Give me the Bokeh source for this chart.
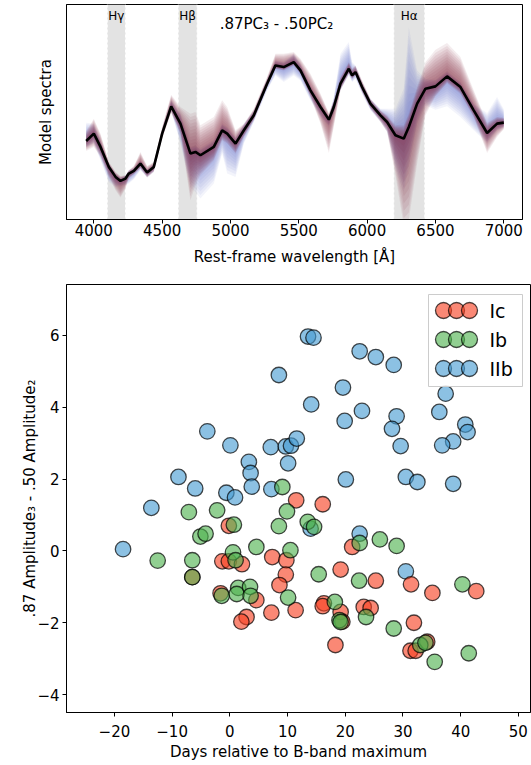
import numpy as np
from bokeh.plotting import figure
from bokeh.models import Range1d, FixedTicker, BoxAnnotation, Span, Label, Legend, LegendItem
from bokeh.layouts import column
from bokeh.core.properties import value
from bokeh.embed import file_html
from bokeh.resources import INLINE

FONT = "DejaVu Sans"

# ---------------- top panel data ----------------
wavelength = [3944, 4000, 4049, 4110, 4159, 4195, 4232, 4256, 4293, 4341, 4390, 4439, 4500, 4566,
              4634, 4707, 4744, 4780, 4878, 4939, 4976, 5037, 5098, 5171, 5268, 5329, 5390, 5463,
              5512, 5585, 5659, 5720, 5756, 5805, 5866, 5890, 5915, 5963, 6024, 6098, 6146, 6207,
              6268, 6305, 6366, 6427, 6500, 6585, 6683, 6780, 6878, 6951, 7000]
flux = [0.78, 1.00, 0.60, 0.00, -0.30, -0.42, -0.35, -0.20, -0.12, 0.10, -0.17, 0.00, 1.00, 1.82,
        1.30, 0.40, 0.45, 0.35, 0.60, 1.10, 1.00, 0.70, 1.10, 1.55, 2.50, 3.05, 3.00, 3.15,
        2.90, 2.30, 1.80, 1.42, 1.80, 2.50, 2.95, 2.75, 2.85, 2.40, 1.90, 1.55, 1.35, 0.95,
        0.85, 1.20, 1.90, 2.35, 2.42, 2.72, 2.40, 1.70, 1.02, 1.30, 1.33]
red_up = [0.30, 0.45, 0.40, 0.15, 0.15, 0.15, 0.10, 0.10, 0.15, 0.35, 0.20, 0.15, 0.20, 0.35,
          0.50, 1.20, 1.20, 0.90, 0.90, 0.90, 0.80, 0.40, 0.20, 0.20, 0.20, 0.35, 0.40, 0.30,
          0.35, 0.50, 0.40, 0.20, 0.20, 0.20, 0.20, 0.20, 0.20, 0.20, 0.15, 0.15, 0.20, 0.30,
          0.40, 0.40, 0.50, 0.80, 1.10, 1.00, 0.90, 0.60, 0.30, 0.20, 0.15]
red_lo = [0.30, 0.40, 0.30, 0.30, 0.40, 0.50, 0.30, 0.15, 0.10, 0.15, 0.15, 0.15, 0.15, 0.20,
          0.30, 1.40, 1.00, 0.60, 0.40, 0.30, 0.30, 0.30, 0.20, 0.15, 0.10, 0.10, 0.10, 0.10,
          0.10, 0.20, 0.50, 1.00, 0.60, 0.20, 0.15, 0.10, 0.10, 0.15, 0.15, 0.20, 0.30, 1.20,
          2.60, 2.80, 1.80, 0.80, 0.30, 0.20, 0.20, 0.20, 0.60, 0.40, 0.20]
blue_up = [0.55, 0.30, 0.20, 0.10, 0.10, 0.10, 0.10, 0.10, 0.10, 0.10, 0.10, 0.10, 0.15, 0.20,
           0.30, 0.20, 0.20, 0.20, 0.20, 0.20, 0.20, 0.20, 0.20, 0.15, 0.15, 0.15, 0.15, 0.25,
           0.20, 0.15, 0.10, 0.10, 0.30, 0.90, 0.80, 0.40, 0.20, 0.15, 0.15, 0.20, 0.40, 0.80,
           1.50, 3.00, 1.00, 0.30, 0.20, 0.15, 0.15, 0.20, 0.60, 0.80, 0.40]
blue_lo = [0.20, 0.30, 0.40, 0.45, 0.30, 0.15, 0.20, 0.30, 0.25, 0.20, 0.15, 0.15, 0.10, 0.15,
           0.60, 1.00, 1.20, 1.30, 1.10, 0.70, 1.20, 1.00, 0.40, 0.20, 0.20, 0.30, 0.45, 0.40,
           0.30, 0.30, 0.30, 0.20, 0.20, 0.20, 0.20, 0.20, 0.20, 0.20, 0.20, 0.20, 0.30, 1.00,
           1.60, 1.20, 0.60, 0.50, 0.70, 0.90, 0.90, 0.60, 0.30, 0.20, 0.15]

line_names = ["Hγ", "Hβ", "Hα"]
band_lo = [4098, 4617, 6195]
band_hi = [4232, 4756, 6422]
top_xticks = [4000, 4500, 5000, 5500, 6000, 6500, 7000]

# ---------------- bottom panel data ----------------
ic_days = [11.5, -0.17, -6.5, -1.3, -0.17, 2.1, 7.35, 9.8, 9.7, 8.6, 11.4, -1.6, 4.6, 2.9, 2.0, 7.2,
           16.1, 21.2, 19.2, 25.3, 31.4, 35.1, 42.7, 16.3, 16.1, 19.2, 19.5, 23.2, 24.4, 18.3,
           31.9, 31.3, 32.2, 34.2]
ic_amp = [1.41, 0.70, -0.73, -0.29, -0.29, -0.37, -0.17, -0.26, -0.66, -0.95, -1.65, -1.18, -1.37,
          -1.84, -1.97, -1.72, 1.30, 0.11, -0.52, -0.83, -0.93, -1.17, -1.12, -1.46, -1.54, -1.70,
          -1.97, -1.56, -1.59, -2.62, -2.00, -2.78, -2.78, -2.53]
ib_days = [9.1, 9.9, -7.1, -2.2, 0.7, 8.5, -5.1, -4.2, 4.6, 10.5, -12.5, -6.5, -6.5, 0.55, 1.0,
           10.1, -1.4, 1.45, 1.2, 3.5, 3.6, 13.5, 14.6, 22.5, 26.0, 28.9, 15.4, 22.4, 40.3, 18.2,
           19.0, 19.2, 23.6, 28.4, 33.0, 33.9, 35.5, 41.4]
ib_amp = [1.78, 1.10, 1.08, 1.13, 0.73, 0.69, 0.40, 0.48, 0.11, 0.02, -0.27, -0.26, -0.73, -0.04,
          -0.26, -1.30, -1.25, -1.03, -1.20, -1.00, -1.25, 0.81, 0.67, 0.22, 0.32, 0.14, -0.65,
          -0.83, -0.93, -1.42, -1.93, -1.98, -1.84, -2.16, -2.62, -2.56, -3.09, -2.85]
iib_days = [8.5, -3.9, 0.1, 7.1, 9.7, 10.6, 11.6, 3.3, 3.6, 10.1, -8.9, -6.0, 3.8, 7.2, -0.6, 0.9,
            -13.6, -18.5, 14.0, 22.5, 30.5, 13.55, 14.5, 22.5, 25.3, 28.4, 19.6, 37.4, 14.1, 22.9,
            19.9, 28.9, 28.1, 36.3, 40.8, 41.2, 38.7, 36.8, 29.6, 20.1, 30.5, 32.5, 38.7]
iib_amp = [4.90, 3.33, 2.94, 2.89, 2.91, 2.93, 3.13, 2.48, 2.17, 2.44, 2.06, 1.74, 1.79, 1.72, 1.62,
           1.49, 1.20, 0.05, 0.62, 0.48, -0.57, 5.97, 5.94, 5.56, 5.40, 5.18, 4.55, 4.38, 4.08,
           3.90, 3.62, 3.75, 3.40, 3.87, 3.52, 3.31, 3.05, 2.94, 2.92, 1.99, 2.06, 1.92, 1.87]
type_names = ["Ic", "Ib", "IIb"]
type_colors = ["#f73f20", "#4eb24e", "#469bd2"]
bottom_xticks = [-20, -10, 0, 10, 20, 30, 40, 50]
bottom_yticks = [-4, -2, 0, 2, 4, 6]


def style_axes(p):
    p.grid.visible = False
    p.outline_line_color = "black"
    p.outline_line_width = 1
    for ax in (p.xaxis[0], p.yaxis[0]):
        ax.axis_line_color = "black"
        ax.major_tick_line_color = "black"
        ax.major_tick_in = 0
        ax.major_tick_out = 4
        ax.minor_tick_line_color = None
        ax.major_label_text_font = FONT
        ax.major_label_text_font_size = "15px"
        ax.major_label_text_color = "black"
        ax.axis_label_text_font = FONT
        ax.axis_label_text_font_size = "15px"
        ax.axis_label_text_font_style = "normal"
        ax.axis_label_text_color = "black"


# ---------------- top panel ----------------
p1 = figure(frame_width=456, frame_height=215, x_range=Range1d(3800, 7137),
            y_range=Range1d(-1.58, 4.88), output_backend="svg", toolbar_location=None,
            min_border_left=66, min_border_right=9, min_border_top=4, min_border_bottom=55,
            background_fill_color="white", border_fill_color="white")
style_axes(p1)

for lo, hi in zip(band_lo, band_hi):
    p1.add_layout(BoxAnnotation(left=lo, right=hi, fill_color="#e3e3e3", fill_alpha=1.0,
                                line_alpha=0, level="underlay"))
    for edge in (lo, hi):
        p1.add_layout(Span(location=edge, dimension="height", line_color="white",
                           line_width=1, line_dash="3 2", level="underlay"))

wl = np.array(wavelength)
f = np.array(flux)
N = 12
for k in range(N, 0, -1):
    frac = k / N
    p1.varea(x=wl, y1=f - np.array(blue_lo) * frac, y2=f + np.array(blue_up) * frac,
             fill_color="#5565c0", fill_alpha=0.07)
for k in range(N, 0, -1):
    frac = k / N
    p1.varea(x=wl, y1=f - np.array(red_lo) * frac, y2=f + np.array(red_up) * frac,
             fill_color="#86304c", fill_alpha=0.095)
p1.line(wl, f, line_color="black", line_width=2.6)

for name, lo, hi in zip(line_names, band_lo, band_hi):
    p1.add_layout(Label(x=(lo + hi) / 2, y=204, y_units="screen", text=name,
                        text_align="center", text_baseline="middle",
                        text_font=FONT, text_font_size="12px", text_color="black"))
p1.add_layout(Label(x=210, y=196, x_units="screen", y_units="screen", text=".87PC₃ - .50PC₂",
                    text_align="center", text_baseline="middle",
                    text_font=FONT, text_font_size="15px", text_color="black"))

p1.xaxis.ticker = FixedTicker(ticks=top_xticks)
p1.xaxis.major_label_standoff = 0
p1.xaxis.axis_label = "Rest-frame wavelength [Å]"
p1.xaxis.axis_label_standoff = 9
p1.yaxis.ticker = FixedTicker(ticks=[])
p1.yaxis.major_tick_out = 0
p1.yaxis.axis_label = "Model spectra"
p1.yaxis.axis_label_standoff = 12

# ---------------- bottom panel ----------------
p2 = figure(frame_width=464, frame_height=428, x_range=Range1d(-28.3, 52.1),
            y_range=Range1d(-4.5, 7.42), output_backend="svg", toolbar_location=None,
            min_border_left=66, min_border_right=1, min_border_top=10, min_border_bottom=53,
            background_fill_color="white", border_fill_color="white")
style_axes(p2)

series = {"Ic": (ic_days, ic_amp), "Ib": (ib_days, ib_amp), "IIb": (iib_days, iib_amp)}
renderers = {}
for name in ["IIb", "Ic", "Ib"]:
    xs, ys = series[name]
    col = type_colors[type_names.index(name)]
    renderers[name] = p2.scatter(xs, ys, size=15.5, fill_color=col, fill_alpha=0.62,
                                 line_color="black", line_alpha=0.7, line_width=1.3)

# legend: frame box and labels as annotations, three overlapping circles per entry
p2.add_layout(BoxAnnotation(left=362, right=456, bottom=326, top=418,
                            left_units="screen", right_units="screen",
                            bottom_units="screen", top_units="screen",
                            fill_color="white", fill_alpha=0.85,
                            line_color="#cccccc", line_width=1, line_alpha=1.0))
row_y = [402, 372.6, 344]          # row centres, px above the frame bottom
col_x = [377.3, 389.5, 403.3]      # circle centres, px right of the frame left
for name, yc in zip(type_names, row_y):
    p2.add_layout(Label(x=423, y=yc, x_units="screen", y_units="screen", text=name,
                        text_align="left", text_baseline="middle",
                        text_font=FONT, text_font_size="19px", text_color="black"))
    for xc in col_x:
        p2.add_layout(Legend(items=[LegendItem(label=value(""), renderers=[renderers[name]])],
                             location=(xc - 20, yc - 20), glyph_width=40, glyph_height=40,
                             label_height=0, label_width=0, label_standoff=0,
                             padding=0, spacing=0, margin=0, label_text_font_size="8px",
                             border_line_color=None, background_fill_alpha=0))

p2.xaxis.ticker = FixedTicker(ticks=bottom_xticks)
p2.yaxis.ticker = FixedTicker(ticks=bottom_yticks)
p2.xaxis.major_label_overrides = {t: str(t).replace("-", "−") for t in bottom_xticks if t < 0}
p2.yaxis.major_label_overrides = {t: str(t).replace("-", "−") for t in bottom_yticks if t < 0}
p2.xaxis.major_label_standoff = 8
p2.yaxis.major_label_standoff = 3
p2.xaxis.axis_label = "Days relative to B-band maximum"
p2.xaxis.axis_label_standoff = 3
p2.yaxis.axis_label = ".87 Amplitude₃ - .50 Amplitude₂"
p2.yaxis.axis_label_standoff = -5

layout = column(p1, p2, spacing=0)
open("out.html", "w").write(file_html(layout, INLINE))
